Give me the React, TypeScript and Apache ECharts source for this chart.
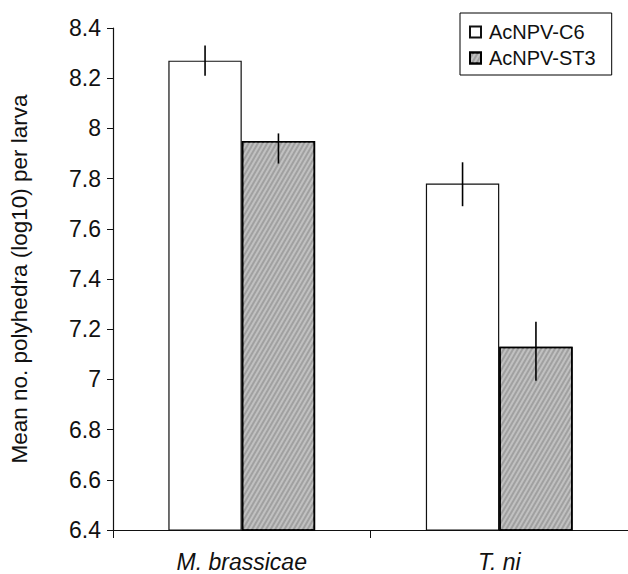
import React, { useEffect, useRef } from "react";
import * as echarts from "echarts";

const categories = ["M. brassicae", "T. ni"];
const seriesNames = ["AcNPV-C6", "AcNPV-ST3"];
const c6Values = [8.27, 7.78];
const st3Values = [7.95, 7.13];
const c6ErrLow = [8.21, 7.69];
const c6ErrHigh = [8.33, 7.865];
const st3ErrLow = [7.86, 6.995];
const st3ErrHigh = [7.98, 7.23];
const yMin = 6.4;
const yMax = 8.4;
const yStep = 0.2;

const CAT_GAP = 0.43;
const FONT = "'Liberation Sans', Arial, sans-serif";

function errorSeries(low: number[], high: number[], sign: number) {
  const data = categories.map((_, i) => [i, low[i], high[i]]);
  return {
    type: "custom",
    silent: true,
    encode: { x: 0, y: [1, 2] },
    data,
    z: 5,
    renderItem: (params: any, api: any) => {
      const cat = api.value(0);
      const lo = api.coord([cat, api.value(1)]);
      const hi = api.coord([cat, api.value(2)]);
      const band = api.size([1, 0])[0];
      const barW = (band * (1 - CAT_GAP)) / 2;
      const x = lo[0] + (sign * barW) / 2;
      return {
        type: "line",
        shape: { x1: x, y1: lo[1], x2: x, y2: hi[1] },
        style: { stroke: "#000", lineWidth: 1.6 },
      };
    },
  };
}

export default function App() {
  const ref = useRef<HTMLDivElement>(null);
  useEffect(() => {
    if (!ref.current) return;
    const chart = echarts.init(ref.current, undefined, { renderer: "svg" });
    chart.setOption({
      animation: false,
      backgroundColor: "#fff",
      textStyle: { fontFamily: FONT },
      grid: { left: 112, top: 28, bottom: 44, right: -6, containLabel: false },
      legend: {
        data: seriesNames,
        orient: "vertical",
        left: 460,
        top: 13,
        padding: [8, 16, 6, 9],
        borderColor: "#000",
        borderWidth: 1,
        backgroundColor: "#fff",
        itemWidth: 11,
        itemHeight: 11,
        itemGap: 4,
        icon: "rect",
        textStyle: { fontSize: 20, color: "#111", fontFamily: FONT, lineHeight: 22, padding: [0, 0, 0, 3] },
      },
      xAxis: {
        type: "category",
        data: categories,
        axisLine: { lineStyle: { color: "#111", width: 1.2 } },
        axisTick: { show: true, length: 8, alignWithLabel: false, lineStyle: { color: "#111" } },
        axisLabel: { fontSize: 23, fontStyle: "italic", color: "#111", margin: 20, fontFamily: FONT },
        splitLine: { show: false },
      },
      yAxis: {
        type: "value",
        min: yMin,
        max: yMax,
        interval: yStep,
        name: "Mean no. polyhedra (log10) per larva",
        nameLocation: "middle",
        nameGap: 82,
        nameTextStyle: { fontSize: 22.5, color: "#111", fontFamily: FONT },
        axisLine: { show: true, lineStyle: { color: "#111", width: 1.2 } },
        axisTick: { show: true, length: 6, lineStyle: { color: "#111" } },
        axisLabel: { fontSize: 23, color: "#111", margin: 12, fontFamily: FONT },
        splitLine: { show: false },
      },
      series: [
        {
          name: seriesNames[0],
          type: "bar",
          data: c6Values,
          barGap: "0%",
          barCategoryGap: "43%",
          itemStyle: { color: "#ffffff", borderColor: "#111", borderWidth: 1.2 },
        },
        {
          name: seriesNames[1],
          type: "bar",
          data: st3Values,
          barGap: "0%",
          barCategoryGap: "43%",
          itemStyle: {
            color: "#a0a0a0",
            borderColor: "#000",
            borderWidth: 1.6,
            decal: {
              symbol: "rect",
              symbolSize: 1,
              color: "rgba(255,255,255,0.35)",
              dashArrayX: [[1, 0]],
              dashArrayY: [1.2, 2],
              rotation: -Math.PI / 3,
            },
          },
        },
        errorSeries(c6ErrLow, c6ErrHigh, -1),
        errorSeries(st3ErrLow, st3ErrHigh, 1),
      ],
    });
    return () => chart.dispose();
  }, []);
  return (
    <div
      ref={ref}
      style={{ position: "fixed", left: 0, top: 0, width: 628, height: 574 }}
    />
  );
}
